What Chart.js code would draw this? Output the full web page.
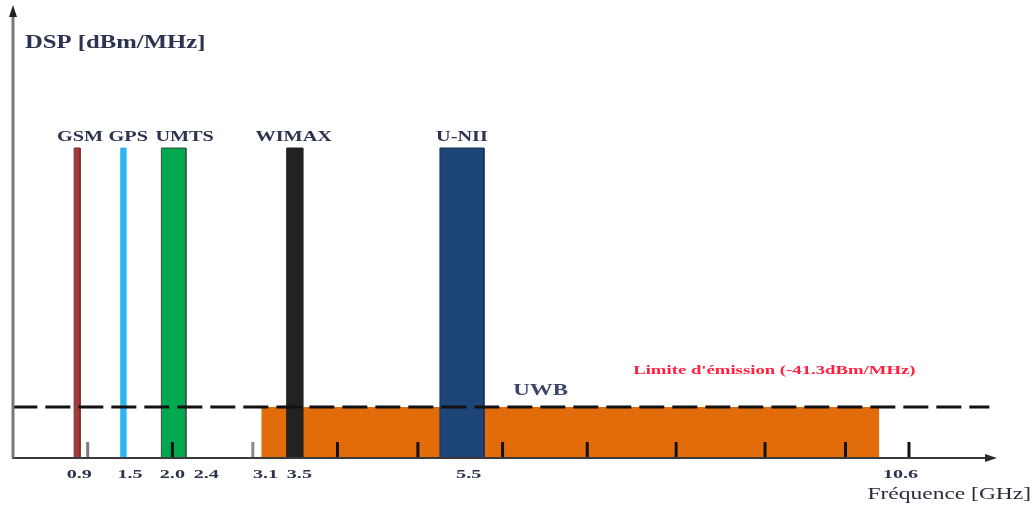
<!DOCTYPE html>
<html>
<head>
<meta charset="utf-8">
<script src="https://cdn.jsdelivr.net/npm/chart.js@4/dist/chart.umd.min.js"></script>
<style>
  html, body { margin: 0; padding: 0; background: #ffffff; }
  canvas { display: block; }
</style>
</head>
<body>
<canvas id="c" width="1036" height="507"></canvas>
<script>
// ---- data (schematic spectrum) ----
const categories = ['GSM', 'GPS', 'UMTS', 'WIMAX', 'U-NII'];
const bandStart = [0.84, 1.39, 1.87, 3.35, 5.16];   // GHz
const bandEnd   = [0.91, 1.45, 2.16, 3.54, 5.68];   // GHz
const bandLevel = [3, 3, 3, 3, 3];                  // dBm/MHz (schematic)
const uwbBand   = [3.05, 10.35];                    // GHz
const uwbLimit  = -41.3;                            // dBm/MHz
const limitLineRange = [0.11, 11.65];               // GHz
const tickValues = [0.9, 1.5, 2.0, 2.4, 3.1, 3.5, 5.5, 10.6];
const tickLabels = ['0.9', '1.5', '2.0', '2.4', '3.1', '3.5', '5.5', '10.6'];
const tickMarks  = [1.0, 2.0, 2.95, 3.95, 4.9, 5.9, 6.9, 7.95, 9.0, 9.95, 10.7];

// ---- styles ----
const bandColors  = ['#a23a3a', '#2db4f2', '#00a84f', '#222222', '#1e4577'];
const bandBorders = ['#7a2a2a', '#2db4f2', '#3b4a3b', '#222222', '#16335a'];
const uwbColor = '#e36c0a';
const tickMarkColors = ['#7a7a7a', '#111', '#8a8a8a', '#111', '#111', '#111', '#111', '#111', '#111', '#111', '#111'];
const labelNudge = [3, 5, 11, -1, 0];
const textColor = '#2c3350';

const Y_MIN = -50, Y_MAX = 26.6, X_MIN = 0.106, X_MAX = 11.716;

function rect(x0, x1, top) {
  return [{x: x0, y: Y_MIN}, {x: x0, y: top}, {x: x1, y: top}, {x: x1, y: Y_MIN}];
}

const datasets = [];
datasets.push({
  label: 'limit',
  data: [{x: limitLineRange[0], y: uwbLimit}, {x: limitLineRange[1], y: uwbLimit}],
  borderColor: '#111111', borderWidth: 3, borderDash: [25, 8],
  pointRadius: 0, fill: false, order: 0
});
categories.forEach((c, i) => {
  datasets.push({
    label: c,
    data: rect(bandStart[i], bandEnd[i], bandLevel[i]),
    borderColor: bandBorders[i], borderWidth: 1,
    backgroundColor: bandColors[i],
    pointRadius: 0, fill: 'start', order: 1
  });
});
datasets.push({
  label: 'UWB',
  data: rect(uwbBand[0], uwbBand[1], uwbLimit),
  borderColor: uwbColor, borderWidth: 0,
  backgroundColor: uwbColor,
  pointRadius: 0, fill: 'start', order: 2
});

function txt(ctx, s, x, y, font, color, align, sx) {
  ctx.save();
  ctx.translate(x, y);
  ctx.scale(sx, 1);
  ctx.font = font;
  ctx.fillStyle = color;
  ctx.textAlign = align;
  ctx.textBaseline = 'middle';
  ctx.fillText(s, 0, 0);
  ctx.restore();
}

const decor = {
  id: 'decor',
  afterDatasetsDraw(chart) {
    const ctx = chart.ctx;
    const xs = chart.scales.x, ys = chart.scales.y;
    const ca = chart.chartArea;
    const base = ys.getPixelForValue(Y_MIN);

    // tick marks
    ctx.save();
    ctx.lineWidth = 3;
    tickMarks.forEach((v, i) => {
      const px = xs.getPixelForValue(v);
      ctx.strokeStyle = tickMarkColors[i];
      ctx.beginPath();
      ctx.moveTo(px, base);
      ctx.lineTo(px, base - 16);
      ctx.stroke();
    });
    ctx.restore();

    // axes
    ctx.save();
    ctx.strokeStyle = '#3a3a3a';
    ctx.fillStyle = '#2a2a2a';
    ctx.lineWidth = 2;
    ctx.beginPath();
    ctx.moveTo(ca.left, base);
    ctx.lineTo(ca.right - 6, base);
    ctx.stroke();
    ctx.beginPath();
    ctx.moveTo(ca.right + 2, base);
    ctx.lineTo(ca.right - 10, base - 4);
    ctx.lineTo(ca.right - 10, base + 4);
    ctx.closePath();
    ctx.fill();
    ctx.strokeStyle = '#777';
    ctx.lineWidth = 3;
    ctx.beginPath();
    ctx.moveTo(ca.left + 1, base);
    ctx.lineTo(ca.left + 1, 14);
    ctx.stroke();
    ctx.fillStyle = '#222';
    ctx.beginPath();
    ctx.moveTo(ca.left + 1, 5);
    ctx.lineTo(ca.left - 3, 17);
    ctx.lineTo(ca.left + 5, 17);
    ctx.closePath();
    ctx.fill();
    ctx.restore();

    // tick labels
    tickValues.forEach((v, i) => {
      txt(ctx, tickLabels[i], xs.getPixelForValue(v), base + 17, 'bold 13px "Liberation Serif"', textColor, 'center', 1.55);
    });

    // band labels
    categories.forEach((c, i) => {
      const cx = xs.getPixelForValue((bandStart[i] + bandEnd[i]) / 2) + labelNudge[i];
      const top = ys.getPixelForValue(bandLevel[i]);
      txt(ctx, c, cx, top - 11, 'bold 15px "Liberation Serif"', textColor, 'center', 1.35);
    });

    const limY = ys.getPixelForValue(uwbLimit);
    txt(ctx, 'UWB', xs.getPixelForValue(6.35), limY - 17, 'bold 17px "Liberation Serif"', '#3a4668', 'center', 1.35);
    txt(ctx, "Limite d'émission (-41.3dBm/MHz)", xs.getPixelForValue(9.11), limY - 36, 'bold 13px "Liberation Serif"', '#ff2040', 'center', 1.44);

    txt(ctx, 'DSP [dBm/MHz]', 25, 43, 'bold 19px "Liberation Serif"', textColor, 'left', 1.3);
    txt(ctx, 'Fréquence [GHz]', 1031, 495, '17px "Liberation Serif"', '#2a2a3a', 'right', 1.38);
  }
};

new Chart(document.getElementById('c'), {
  type: 'line',
  data: { datasets },
  options: {
    responsive: false,
    animation: false,
    layout: { padding: { left: 12, right: 41, top: 10, bottom: 49 } },
    plugins: { legend: { display: false }, tooltip: { enabled: false } },
    elements: { line: { tension: 0 } },
    scales: {
      x: { type: 'linear', min: X_MIN, max: X_MAX, display: false },
      y: { type: 'linear', min: Y_MIN, max: Y_MAX, display: false }
    }
  },
  plugins: [decor]
});
</script>
</body>
</html>
